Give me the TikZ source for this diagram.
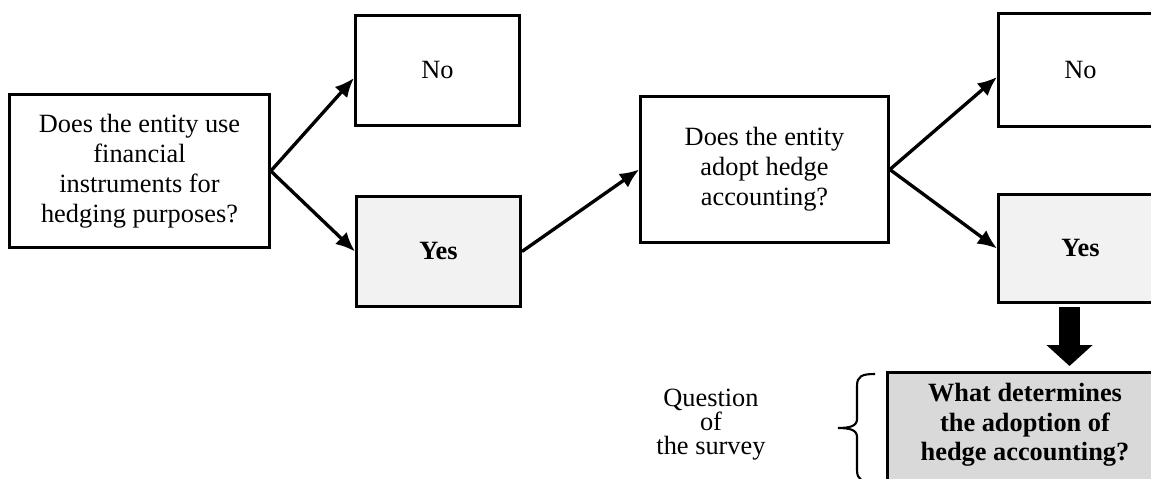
\documentclass[tikz,border=0pt]{standalone}
\usepackage{fontspec}
\setmainfont{Liberation Serif}
\usetikzlibrary{arrows.meta,calc}
\definecolor{hellgrau}{HTML}{F2F2F2}
\definecolor{mittelgrau}{HTML}{D9D9D9}

\begin{document}
\begin{tikzpicture}[x=0.02cm, y=-0.02cm, >={Latex[length=11pt,width=9.5pt]},
  box/.style={draw, line width=1.5pt, inner sep=0pt, align=center,
    font=\fontsize{15}{17}\selectfont},
  janein/.style={box, minimum width={165*\px}, minimum height={111*\px}},
  ja/.style={janein, fill=hellgrau, font=\fontsize{15}{17}\selectfont\bfseries},
  pfeil/.style={->, line width=1.9pt}]
\def\px{0.5669pt}
\useasboundingbox (0,0) rectangle (1151,479);
\clip (0,0) rectangle (1151,479);
% Fragen
\node[box, minimum width={261*\px}, minimum height={154*\px}] (F1) at (139.5,171)
  {Does the entity use\\financial\\instruments for\\hedging purposes?};
\node[box, minimum width={249*\px}, minimum height={147*\px}] (F2) at (764.5,169.5)
  {Does the entity\\adopt hedge\\accounting?};
% Ja/Nein
\node[janein] (N1) at (437.5,70.5) {No};
\node[ja] (J1) at (438.5,251.5) {Yes};
\node[janein, minimum height={114*\px}] (N2) at (1080.5,70) {No};
\node[ja, minimum height={109*\px}] (J2) at (1080.5,248.5) {Yes};
% Forschungsfrage
\node[box, fill=mittelgrau, anchor=north, minimum width={276*\px}, inner ysep=6.3pt,
  text depth=40pt, font=\fontsize{15}{16.8}\selectfont\bfseries] (F3) at (1025,371)
  {What determines\\the adoption of\\hedge accounting?};
\node[align=center, inner sep=0pt, font=\fontsize{15}{13.6}\selectfont] (Q) at (711,425)
  {Question\\of\\the survey};
% Pfeile
\draw[pfeil] (F1.east) -- ($(N1.west)+(0,7.5)$);
\draw[pfeil] (F1.east) -- (J1.west);
\draw[pfeil] (J1.east) -- (F2.west);
\draw[pfeil] (F2.east) -- ($(N2.west)+(0,7)$);
\draw[pfeil] (F2.east) -- (J2.west);
% dicker Pfeil
\coordinate (A1) at (1069.5,307);
\coordinate (A2) at (1069.5,366);
\draw[line width={22*\px}, -{Triangle[length={21*\px},width={45*\px}]}] (A1) -- (A2);
% Klammer
\coordinate (K1) at (875,374);
\coordinate (K2) at (838,428);
\coordinate (K3) at (875,482);
\draw[line width=1.2pt] (K1) .. controls (862,374) and (857,376) .. (857,386) -- (857,419)
  .. controls (857,426) and (850,428) .. (K2) .. controls (850,428) and (857,430) .. (857,437)
  -- (857,470) .. controls (857,480) and (862,482) .. (K3);
\end{tikzpicture}
\end{document}
